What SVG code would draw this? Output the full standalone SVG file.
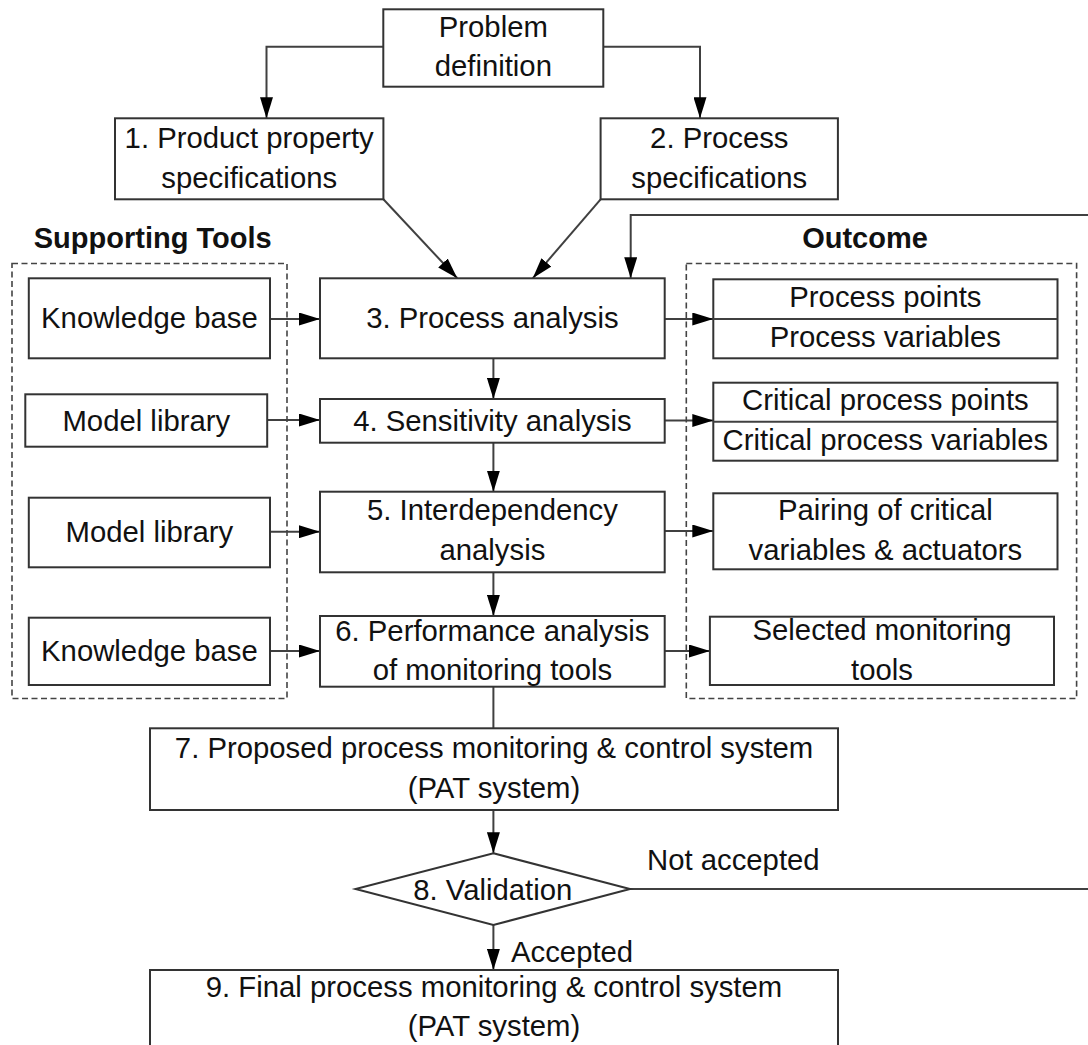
<svg xmlns="http://www.w3.org/2000/svg" width="1088" height="1045" viewBox="0 0 1088 1045">
  <style>
    .box { fill: #ffffff; stroke: #333333; stroke-width: 2; }
    .group { fill: none; stroke: #444444; stroke-width: 1.6; stroke-dasharray: 6 3.5; }
    .line { fill: none; stroke: #404040; stroke-width: 2; }
    .arrow { fill: none; stroke: #404040; stroke-width: 2; marker-end: url(#head); }
    text { font-family: "Liberation Sans", Arial, sans-serif; font-size: 29.3px; fill: #111111; text-anchor: middle; }
    .title { font-weight: bold; font-size: 29px; }
    .label { text-anchor: start; }
  </style>
  <defs>
    <marker id="head" markerUnits="userSpaceOnUse" markerWidth="22" markerHeight="13" refX="21" refY="6.5" orient="auto">
      <path d="M0,0 L21,6.5 L0,13 z" fill="#000000"/>
    </marker>
  </defs>
  <rect width="1088" height="1045" fill="#ffffff"/>

  <!-- group frames and headings -->
  <g id="supporting-tools">
    <rect class="group" x="12" y="263.5" width="275" height="435"/>
    <text class="title" x="152.7" y="248.3">Supporting Tools</text>
  </g>
  <g id="outcome">
    <rect class="group" x="686.3" y="263.5" width="390.3" height="435"/>
    <text class="title" x="865" y="248.3">Outcome</text>
  </g>

  <!-- connectors -->
  <g id="connectors">
    <path class="arrow" d="M383.3,46.7 H266.5 V118.3"/>
    <path class="arrow" d="M603.3,46.7 H700 V118.3"/>
    <path class="arrow" d="M383.4,199.3 L457.3,278.3"/>
    <path class="arrow" d="M600.6,199.3 L532.7,278.3"/>
    <path class="arrow" d="M1090,215 H630.7 V278.3"/>
    <path class="arrow" d="M270,319 H320"/>
    <path class="arrow" d="M267.2,420 H320"/>
    <path class="arrow" d="M270,531.7 H320"/>
    <path class="arrow" d="M270,651 H320"/>
    <path class="arrow" d="M664.7,319 H713.3"/>
    <path class="arrow" d="M664.7,420.5 H713.3"/>
    <path class="arrow" d="M664.7,531 H713.3"/>
    <path class="arrow" d="M664.7,651 H710"/>
    <path class="arrow" d="M493.4,358.3 V399"/>
    <path class="arrow" d="M493.4,442.7 V491.7"/>
    <path class="arrow" d="M493.4,572.3 V616"/>
    <path class="line" d="M493.4,686.7 V728.3"/>
    <path class="arrow" d="M493.4,810 V853.3"/>
    <path class="line" d="M630,889 H1090"/>
    <path class="arrow" d="M493.4,925 V970"/>
    <text class="label" x="647" y="870">Not accepted</text>
    <text class="label" x="511" y="961.7">Accepted</text>
  </g>

  <!-- main process steps -->
  <g id="problem-definition">
    <rect class="box" x="383.3" y="9.3" width="220" height="77.4"/>
    <text x="493.3" y="36.7">Problem</text>
    <text x="493.3" y="76">definition</text>
  </g>
  <g id="step1">
    <rect class="box" x="115" y="118.3" width="268.4" height="81"/>
    <text x="249.2" y="148.3">1. Product property</text>
    <text x="249.2" y="188.3">specifications</text>
  </g>
  <g id="step2">
    <rect class="box" x="600.6" y="118.3" width="237.3" height="81"/>
    <text x="719.3" y="148.3">2. Process</text>
    <text x="719.3" y="188.3">specifications</text>
  </g>
  <g id="step3">
    <rect class="box" x="320" y="278.3" width="344.7" height="80"/>
    <text x="492.4" y="328.3">3. Process analysis</text>
  </g>
  <g id="step4">
    <rect class="box" x="320" y="399" width="344.7" height="43.7"/>
    <text x="492.4" y="430.5">4. Sensitivity analysis</text>
  </g>
  <g id="step5">
    <rect class="box" x="320" y="491.7" width="344.7" height="80.6"/>
    <text x="492.4" y="520">5. Interdependency</text>
    <text x="492.4" y="560">analysis</text>
  </g>
  <g id="step6">
    <rect class="box" x="320" y="616" width="344.7" height="70.7"/>
    <text x="492.4" y="640.7">6. Performance analysis</text>
    <text x="492.4" y="680">of monitoring tools</text>
  </g>
  <g id="step7">
    <rect class="box" x="150" y="728.3" width="688" height="81.7"/>
    <text x="494" y="758.3">7. Proposed process monitoring &amp; control system</text>
    <text x="494" y="798.3">(PAT system)</text>
  </g>
  <g id="step8">
    <polygon class="box" points="493.4,853.3 630,889 493.4,925 355.6,889"/>
    <text x="492.8" y="900">8. Validation</text>
  </g>
  <g id="step9">
    <rect class="box" x="150" y="970" width="688" height="90"/>
    <text x="494" y="996.7">9. Final process monitoring &amp; control system</text>
    <text x="494" y="1036">(PAT system)</text>
  </g>

  <!-- supporting tools -->
  <g id="tool-knowledge-base-1">
    <rect class="box" x="28.8" y="278.3" width="241.2" height="80"/>
    <text x="149.4" y="328.3">Knowledge base</text>
  </g>
  <g id="tool-model-library-1">
    <rect class="box" x="25.3" y="394.3" width="241.9" height="52.4"/>
    <text x="146.3" y="430.5">Model library</text>
  </g>
  <g id="tool-model-library-2">
    <rect class="box" x="28.8" y="497.7" width="241.2" height="69.6"/>
    <text x="149.4" y="542">Model library</text>
  </g>
  <g id="tool-knowledge-base-2">
    <rect class="box" x="28.8" y="617.7" width="241.2" height="67.3"/>
    <text x="149.4" y="661">Knowledge base</text>
  </g>

  <!-- outcomes -->
  <g id="outcome-process">
    <rect class="box" x="713.3" y="279.3" width="344.2" height="79"/>
    <line class="line" x1="713.3" y1="319" x2="1057.5" y2="319"/>
    <text x="885.4" y="306.7">Process points</text>
    <text x="885.4" y="347.3">Process variables</text>
  </g>
  <g id="outcome-critical">
    <rect class="box" x="713.3" y="382.7" width="344.2" height="78"/>
    <line class="line" x1="713.3" y1="421.7" x2="1057.5" y2="421.7"/>
    <text x="885.4" y="410">Critical process points</text>
    <text x="885.4" y="450">Critical process variables</text>
  </g>
  <g id="outcome-pairing">
    <rect class="box" x="713.3" y="493.3" width="344.2" height="76"/>
    <text x="885.4" y="520">Pairing of critical</text>
    <text x="885.4" y="560">variables &amp; actuators</text>
  </g>
  <g id="outcome-monitoring">
    <rect class="box" x="709.9" y="616.7" width="344.1" height="68.3"/>
    <text x="882" y="640">Selected monitoring</text>
    <text x="882" y="680">tools</text>
  </g>
</svg>
